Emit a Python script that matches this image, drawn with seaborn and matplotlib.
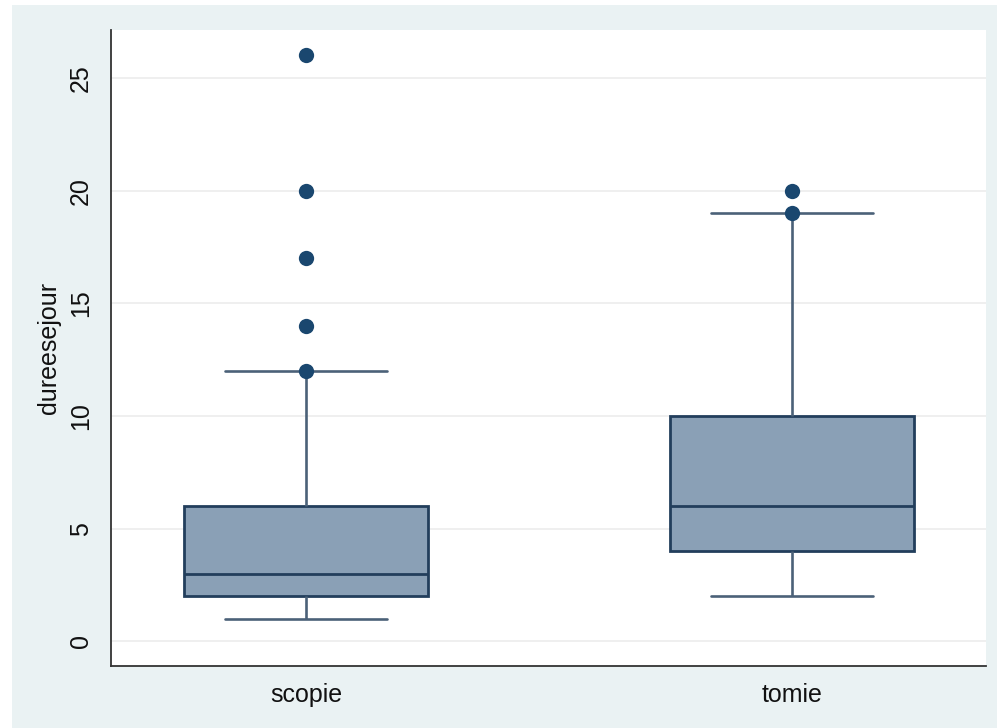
import matplotlib
matplotlib.use("Agg")
import matplotlib.pyplot as plt
from matplotlib.patches import Rectangle
import pandas as pd
import seaborn as sns

# Length of stay (days) by type of procedure
groups = ["scopie", "tomie"]
scopie_days = [1, 1, 2, 2, 2, 2, 2, 2, 3, 3, 3, 3, 3, 4, 4, 5, 5, 6, 6, 8,
               12, 14, 17, 20, 26]
tomie_days = [2, 3, 3, 4, 4, 4, 4, 5, 5, 5, 6, 6, 6, 7, 7, 8, 9, 10, 10, 11,
              12, 14, 16, 19, 20]
# Observations marked individually above the boxes
scopie_marked = [12, 14, 17, 20, 26]
tomie_marked = [19, 20]
yticks = [0, 5, 10, 15, 20, 25]

df = pd.DataFrame({
    "group": ["scopie"] * len(scopie_days) + ["tomie"] * len(tomie_days),
    "dureesejour": scopie_days + tomie_days,
})
marks = pd.DataFrame({
    "group": ["scopie"] * len(scopie_marked) + ["tomie"] * len(tomie_marked),
    "dureesejour": scopie_marked + tomie_marked,
})

sns.set_theme(style="white")
plt.rcParams["font.family"] = ["Liberation Sans", "DejaVu Sans"]

BG = "#eaf2f3"
FILL = "#8aa0b6"
EDGE = "#223e5c"
WHISK = "#4b6178"
DOT = "#1a476f"
TXT = "#111111"

fig = plt.figure(figsize=(9.97, 7.28), dpi=100, facecolor="white")
fig.add_artist(Rectangle((12 / 997, 0), 1 - 12 / 997, 723 / 728,
                         transform=fig.transFigure, facecolor=BG,
                         edgecolor="none", zorder=-5))
ax = fig.add_axes([111 / 997, 62 / 728, 875 / 997, 636 / 728])
ax.set_facecolor("white")

sns.boxplot(data=df, x="group", y="dureesejour", order=groups, ax=ax,
            width=0.503, color=FILL, linecolor=EDGE, linewidth=2.0,
            saturation=1, showfliers=False, whis=1.5,
            capwidths=0.334,
            boxprops={"edgecolor": EDGE, "linewidth": 2.0},
            medianprops={"color": EDGE, "linewidth": 2.0},
            whiskerprops={"color": WHISK, "linewidth": 1.9},
            capprops={"color": WHISK, "linewidth": 1.9})
sns.stripplot(data=marks, x="group", y="dureesejour", order=groups, ax=ax,
              jitter=False, color=DOT, size=11, linewidth=0, zorder=5)

ax.set_xlim(-0.402, 1.4)
ax.set_ylim(-1.1, 27.13)
ax.set_yticks(yticks)
ax.set_yticklabels([str(t) for t in yticks], rotation=90, va="center",
                   fontsize=18, color=TXT)
ax.yaxis.grid(True, color="#ececec", linewidth=1.2)
ax.set_axisbelow(True)
ax.tick_params(axis="y", length=8, width=1.3, color="#444444", pad=5)
ax.tick_params(axis="x", length=0, pad=12, labelsize=18, labelcolor=TXT)
ax.set_xlabel("")
ax.set_ylabel("dureesejour", fontsize=18, color=TXT, labelpad=6)

for side in ("top", "right"):
    ax.spines[side].set_visible(False)
for side in ("left", "bottom"):
    ax.spines[side].set_color("#333333")
    ax.spines[side].set_linewidth(1.3)

fig.savefig("out.png", dpi=100, facecolor=fig.get_facecolor())
